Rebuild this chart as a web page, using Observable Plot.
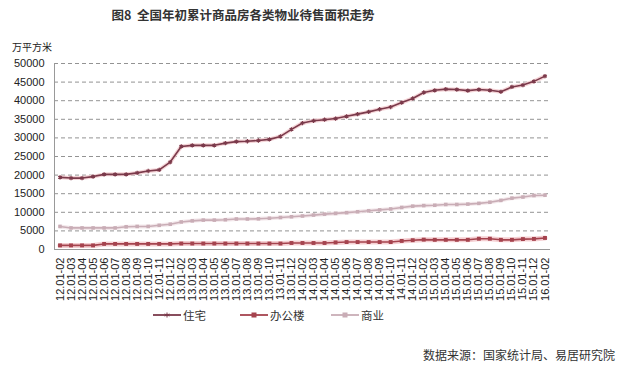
<!DOCTYPE html>
<html><head><meta charset="utf-8">
<script src="https://cdn.jsdelivr.net/npm/d3@7"></script>
<script src="https://cdn.jsdelivr.net/npm/@observablehq/plot@0.6"></script>
<style>
body{margin:0;background:#fff;font-family:"Liberation Sans","Noto Sans CJK SC",sans-serif;}
#wrap{position:relative;width:624px;height:370px;overflow:hidden;}
#chart{position:absolute;left:0;top:0;}
#title{position:absolute;left:0;width:486px;top:5px;text-align:center;font-size:12.5px;font-weight:bold;color:#333;font-family:"Noto Sans CJK SC",sans-serif;white-space:pre;}
#unit{position:absolute;left:12px;top:39px;font-size:10px;color:#222;font-family:"Noto Sans CJK SC",sans-serif;}
#legend{position:absolute;top:306px;left:0;width:624px;height:18px;font-size:11.5px;color:#333;font-family:"Noto Sans CJK SC",sans-serif;}
.item{position:absolute;top:0;display:flex;align-items:center;height:18px;}
.item svg{margin-right:2px;}
#caption{position:absolute;left:423px;top:346px;font-size:12px;color:#333;font-family:"Noto Sans CJK SC",sans-serif;white-space:nowrap;}
</style></head><body>
<div id="wrap">
<div id="chart"></div>
<div id="title"></div>
<div id="unit"></div>
<div id="legend"></div>
<div id="caption"></div>
</div>
<script>
const titleText = "图8  全国年初累计商品房各类物业待售面积走势";
const unitText = "万平方米";
const captionText = "数据来源：国家统计局、易居研究院";
const seriesNames = ["住宅", "办公楼", "商业"];
const seriesColors = ["#7b3a4b", "#a5434e", "#c9adb6"];

const categories = [
 "12.01-02","12.01-03","12.01-04","12.01-05","12.01-06","12.01-07","12.01-08","12.01-09","12.01-10","12.01-11","12.01-12",
 "13.01-02","13.01-03","13.01-04","13.01-05","13.01-06","13.01-07","13.01-08","13.01-09","13.01-10","13.01-11","13.01-12",
 "14.01-02","14.01-03","14.01-04","14.01-05","14.01-06","14.01-07","14.01-08","14.01-09","14.01-10","14.01-11","14.01-12",
 "15.01-02","15.01-03","15.01-04","15.01-05","15.01-06","15.01-07","15.01-08","15.01-09","15.01-10","15.01-11","15.01-12",
 "16.01-02"];

const residential = [19400,19200,19200,19600,20200,20200,20200,20600,21100,21400,23500,
 27700,28000,28000,28000,28600,29000,29100,29300,29600,30400,32300,
 34000,34600,34900,35200,35800,36400,37000,37700,38300,39500,40600,
 42200,42800,43100,43000,42700,43000,42800,42400,43700,44200,45200,
 46600];
const office = [1100,1100,1100,1100,1500,1500,1500,1500,1500,1500,1500,
 1600,1600,1600,1600,1600,1600,1600,1600,1600,1600,1750,
 1750,1750,1750,1900,2000,2000,2000,2000,2000,2300,2500,
 2650,2600,2600,2600,2600,2900,2900,2600,2600,2800,2850,
 3100];
const commercial = [6200,5800,5800,5800,5800,5800,6100,6200,6200,6500,6800,
 7400,7700,7900,7900,8000,8200,8200,8250,8400,8600,8800,
 9000,9250,9500,9700,9900,10150,10400,10650,10900,11300,11650,
 11800,11900,12100,12100,12200,12400,12700,13200,13800,14100,14500,
 14600];
const yTicks = [0,5000,10000,15000,20000,25000,30000,35000,40000,45000,50000];

const toRows = (vals) => vals.map((v, i) => ({i, v}));
const resRows = toRows(residential), offRows = toRows(office), comRows = toRows(commercial);

const chart = Plot.plot({
  width: 624, height: 370,
  marginLeft: 54, marginRight: 74, marginTop: 63, marginBottom: 121,
  style: {fontFamily: "Liberation Sans, sans-serif", fontSize: "11px", color: "#222", background: "transparent"},
  x: {type: "linear", domain: [-0.5, categories.length - 0.5]},
  y: {domain: [0, 50000]},
  marks: [
    Plot.gridY(yTicks.slice(1), {stroke: "#777", strokeOpacity: 1, strokeWidth: 0.8, strokeDasharray: "4,3"}),
    Plot.ruleX([-0.5], {stroke: "#999", strokeWidth: 1}),
    Plot.ruleY([0], {stroke: "#999", strokeWidth: 1}),
    Plot.axisY(yTicks, {tickSize: 0, tickPadding: 10, tickFormat: d3.format("d"), fontSize: 11, label: null}),
    Plot.axisX(d3.range(categories.length), {tickSize: 0, tickPadding: 8, tickRotate: -90, tickFormat: i => categories[i], fontSize: 11, label: null}),
    // halos
    Plot.line(resRows, {x: "i", y: "v", stroke: "#f3c9cd", strokeWidth: 4, strokeOpacity: 0.8}),
    Plot.line(offRows, {x: "i", y: "v", stroke: "#f3c4c8", strokeWidth: 5, strokeOpacity: 0.8}),
    Plot.line(comRows, {x: "i", y: "v", stroke: "#f0e2e6", strokeWidth: 4, strokeOpacity: 0.8}),
    // lines
    Plot.line(comRows, {x: "i", y: "v", stroke: seriesColors[2], strokeWidth: 1.6}),
    Plot.dot(comRows, {x: "i", y: "v", symbol: "square", r: 2, fill: seriesColors[2]}),
    Plot.line(offRows, {x: "i", y: "v", stroke: seriesColors[1], strokeWidth: 1.6}),
    Plot.dot(offRows, {x: "i", y: "v", symbol: "square", r: 2.2, fill: seriesColors[1]}),
    Plot.line(resRows, {x: "i", y: "v", stroke: seriesColors[0], strokeWidth: 1.6}),
    Plot.dot(resRows, {x: "i", y: "v", symbol: "asterisk", r: 2, stroke: seriesColors[0], strokeWidth: 1.2})
  ]
});
document.getElementById("chart").appendChild(chart);
document.getElementById("title").textContent = titleText;
document.getElementById("unit").textContent = unitText;
document.getElementById("caption").textContent = captionText;

const legendPos = [153, 240, 331];
const legendSym = ["asterisk", "square", "square"];
const leg = document.getElementById("legend");
seriesNames.forEach((name, k) => {
  const div = document.createElement("div");
  div.className = "item";
  div.style.left = legendPos[k] + "px";
  const c = seriesColors[k];
  const mk = legendSym[k] === "square"
    ? `<rect x="11.5" y="5.5" width="5" height="5" fill="${c}"/>`
    : `<path d="M14 5.5v5M11.5 7l5 2M11.5 9l5-2" stroke="${c}" stroke-width="1"/>`;
  div.innerHTML = `<svg width="28" height="16"><line x1="0" x2="28" y1="8" y2="8" stroke="${c}" stroke-width="1.8"/>${mk}</svg><span>${name}</span>`;
  leg.appendChild(div);
});
</script>
</body></html>
